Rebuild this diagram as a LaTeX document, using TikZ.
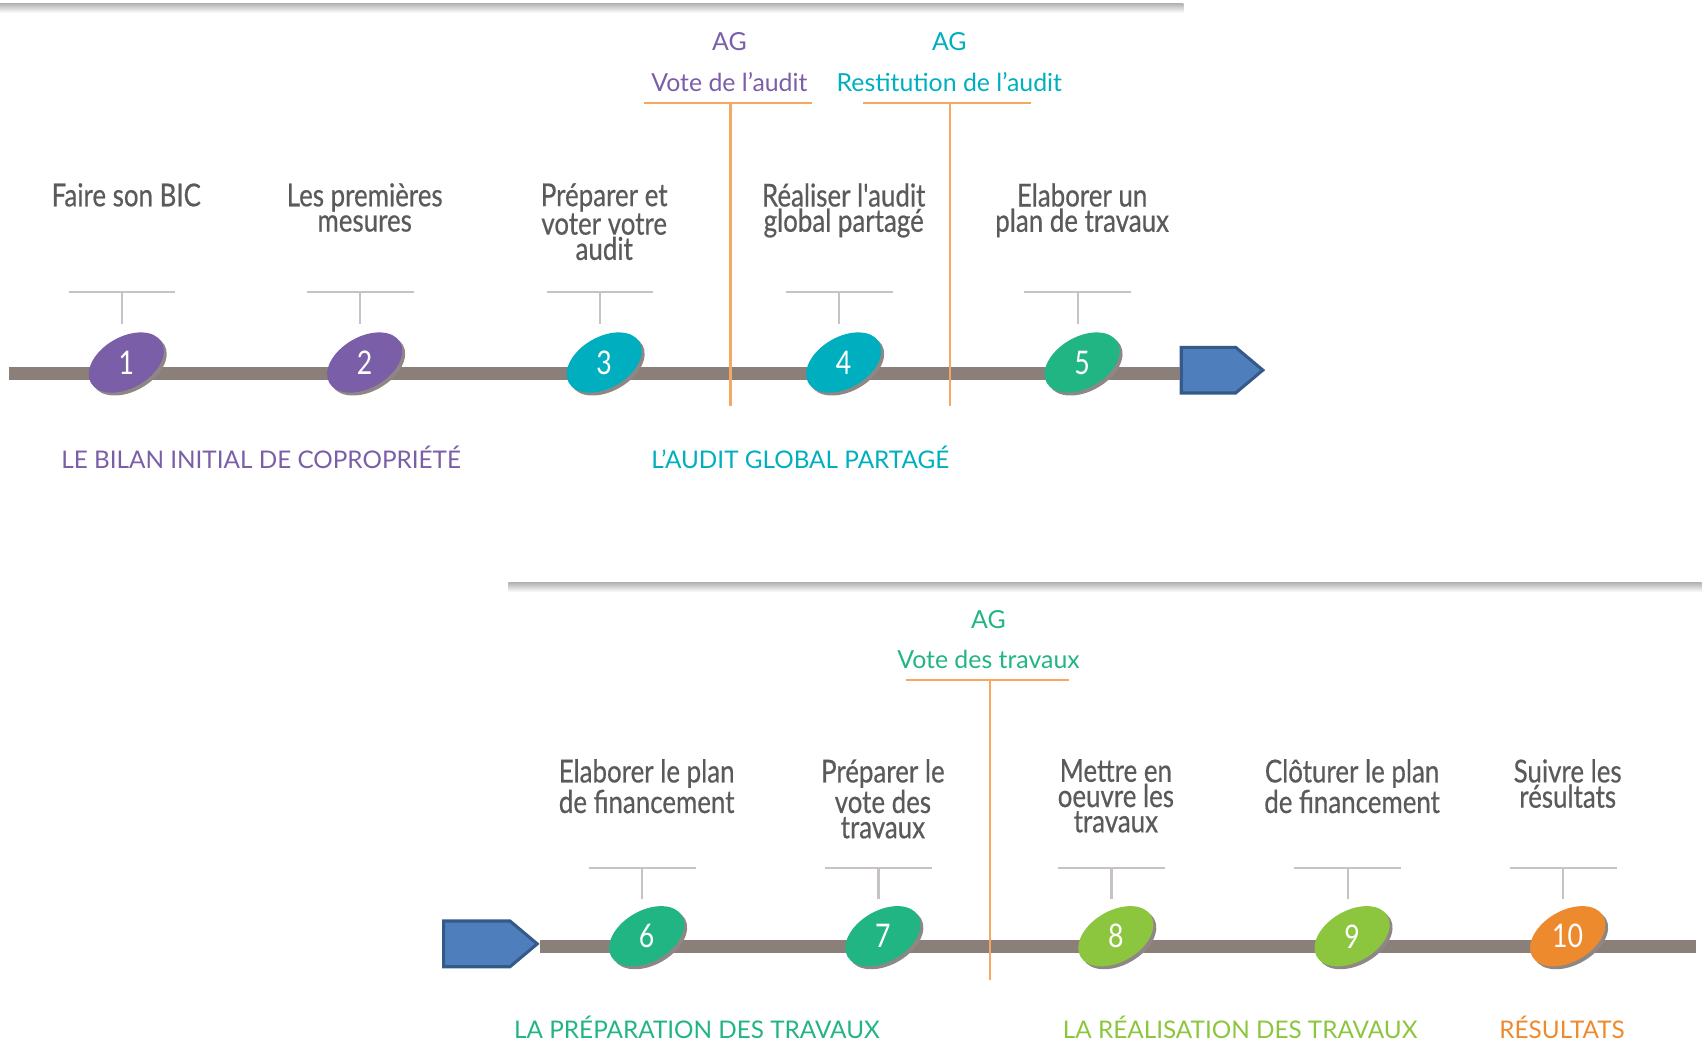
\documentclass[tikz,border=0pt]{standalone}
\usepackage{fontspec}
\setmainfont{Lato}
\newfontfamily\etapefont[FakeStretch=0.82,FakeBold=0.5]{Lato}
\newfontfamily\chiffrefont[FakeStretch=0.82]{Lato}
\usetikzlibrary{shapes.geometric,shapes.symbols,shadows}

\definecolor{violet1}{HTML}{7A5EA8}
\definecolor{teal1}{HTML}{00AFBF}
\definecolor{vert1}{HTML}{22B584}
\definecolor{vert2}{HTML}{8CC63F}
\definecolor{orange1}{HTML}{EE8A2E}
\definecolor{taupe}{HTML}{8B7F7A}
\definecolor{ombre}{HTML}{8F8785}
\definecolor{trait}{HTML}{C8C3C3}
\definecolor{ligne}{HTML}{F6A863}
\definecolor{bleu}{HTML}{4F7EBD}
\definecolor{bleufonce}{HTML}{345A8A}
\definecolor{gristexte}{HTML}{5A5A5A}

\tikzset{
  etape/.style={font=\etapefont\fontsize{16.5}{13.2}\selectfont, text=gristexte,
    align=center, anchor=north, inner sep=0pt},
  pastille/.style={ellipse, minimum width=1.5cm, minimum height=0.94cm,
    inner sep=0pt, rotate=30, fill=#1,
    drop shadow={shadow xshift=1.5pt, shadow yshift=-1.5pt, fill=ombre, opacity=1}},
  chiffre/.style={font=\chiffrefont\fontsize{17}{17}\selectfont, text=white, inner sep=0pt},
  phase/.style={font=\fontsize{12.7}{14}\selectfont, text=#1, inner sep=0pt, anchor=west},
  ag/.style={font=\fontsize{13}{15}\selectfont, text=#1, inner sep=0pt},
  fleche/.style={signal, signal to=east, signal pointer angle=80,
    minimum width=#1, minimum height=0.84cm, inner sep=0pt,
    fill=bleu, draw=bleufonce, line width=1.6pt},
  fleche/.default=1.5cm,
  barre/.style={draw=taupe, line width=0.24cm},
  repere/.style={draw=ligne, line width=1.1pt},
  tee/.style={draw=trait, line width=1.1pt}
}

\begin{document}
\begin{tikzpicture}[x=0.02cm,y=-0.02cm]
            \useasboundingbox (0,0) rectangle (1568,956);

            % bandeaux gris
            \shade[top color=gray!60, bottom color=white] (0,3) rectangle (1087,12);
            \shade[top color=gray!60, bottom color=white] (467,535) rectangle (1563,544);

            % ligne du haut
            \node[fleche] (fin1) at (1110,340) {};
            \coordinate (debut1) at (8,343);
            \draw[barre] (debut1) -- (debut1 -| fin1.west);

            \node[ag=violet1] (ag1) at (670,38) {AG};
            \node[ag=violet1] (vote1) at (670,75) {Vote de l'audit};
            \draw[repere] (592,95) -- (746,95);
            \draw[repere] (671,95) coordinate (haut1) -- (671,373) coordinate (pied1);

            \node[ag=teal1] (ag2) at (872,38) {AG};
            \node[ag=teal1] (vote2) at (872,75) {Restitution de l'audit};
            \draw[repere] (793,95) -- (947,95);
            \draw[repere] (873,95) coordinate (haut2) -- (873,373) coordinate (pied2);

            \foreach \x/\n/\c/\txt in {116/1/violet1/{Faire son BIC},
                335/2/violet1/{Les premières\\mesures},
                555/3/teal1/{Préparer et\\voter votre\\audit},
                775/4/teal1/{Réaliser l'audit\\global partagé},
                994/5/vert1/{Elaborer un\\plan de travaux}} {
                \node[etape] (e\n) at (\x,168) {\txt};
                \draw[tee] (\x-53,268) -- (\x+45,268);
                \draw[tee] (\x-4,268) -- (\x-4,298);
                \node[pastille=\c] (p\n) at (\x,333) {};
                \node[chiffre] (n\n) at (p\n) {\n};
            }

            \node[phase=violet1] (phase1) at (56,420) {LE BILAN INITIAL DE COPROPRIÉTÉ};
            \node[phase=teal1] (phase2) at (598,420) {L'AUDIT GLOBAL PARTAGÉ};

            % ligne du bas
            \node[fleche=1.72cm] (fin2) at (438,867) {};
            \coordinate (debut2) at (1558,869);
            \draw[barre] (fin2.east |- debut2) -- (debut2);

            \node[ag=vert1] (ag3) at (908,569) {AG};
            \node[ag=vert1] (vote3) at (908,606) {Vote des travaux};
            \draw[repere] (832,625) -- (982,625);
            \draw[repere] (909,625) coordinate (haut3) -- (909,900) coordinate (pied3);

            \foreach \x/\n/\c/\txt in {594/6/vert1/{Elaborer le plan\\de financement},
                811/7/vert1/{Préparer le\\vote des\\travaux},
                1025/8/vert2/{Mettre en\\oeuvre les\\travaux},
                1242/9/vert2/{Clôturer le plan\\de financement},
                1440/10/orange1/{Suivre les\\résultats}} {
                \node[etape] (e\n) at (\x,697) {\txt};
                \draw[tee] (\x-53,797) -- (\x+45,797);
                \draw[tee] (\x-4,797) -- (\x-4,826);
                \node[pastille=\c] (p\n) at (\x,860) {};
                \node[chiffre] (n\n) at (p\n) {\n};
            }

            \node[phase=vert1] (phase3) at (472,944) {LA PRÉPARATION DES TRAVAUX};
            \node[phase=vert2] (phase4) at (976,944) {LA RÉALISATION DES TRAVAUX};
            \node[phase=orange1] (phase5) at (1377,944) {RÉSULTATS};
        \end{tikzpicture}
\end{document}
